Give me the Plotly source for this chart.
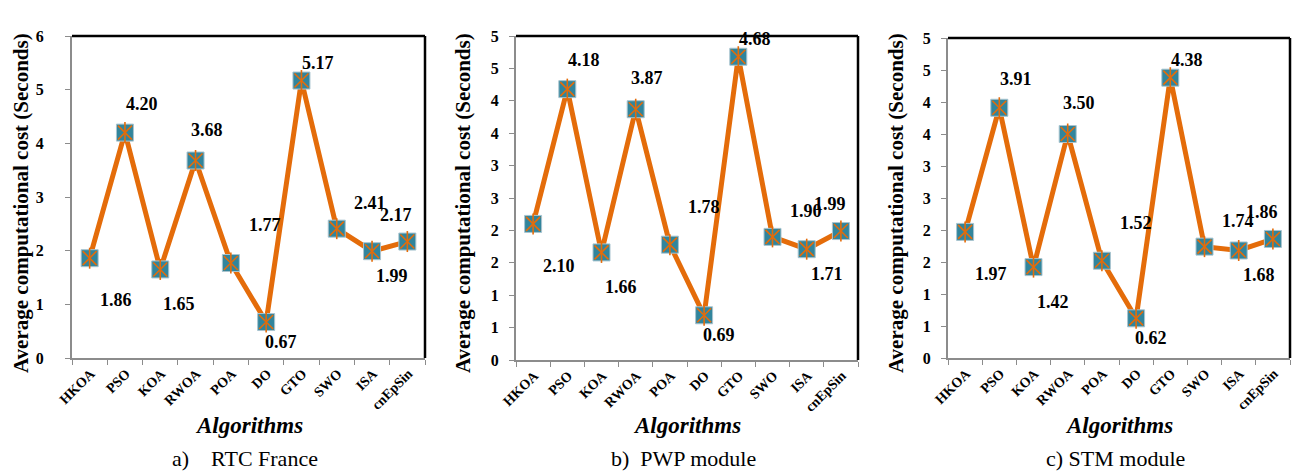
import plotly.graph_objects as go

W, H = 1301, 474

algorithms = ["HKOA", "PSO", "KOA", "RWOA", "POA", "DO", "GTO", "SWO", "ISA", "cnEpSin"]
rtc_france = [1.86, 4.20, 1.65, 3.68, 1.77, 0.67, 5.17, 2.41, 1.99, 2.17]
pwp_module = [2.10, 4.18, 1.66, 3.87, 1.78, 0.69, 4.68, 1.90, 1.71, 1.99]
stm_module = [1.97, 3.91, 1.42, 3.50, 1.52, 0.62, 4.38, 1.74, 1.68, 1.86]

panel_titles = ["a)    RTC France", "b)  PWP module", "c) STM module"]
y_tick_vals_a = [0, 1, 2, 3, 4, 5, 6]
y_tick_text_a = ["0", "1", "2", "3", "4", "5", "6"]
y_tick_vals_bc = [0, 0.5, 1, 1.5, 2, 2.5, 3, 3.5, 4, 4.5, 5]
y_tick_text_bc = ["0", "1", "1", "2", "2", "3", "3", "4", "4", "5", "5"]

# label offsets (pixels) relative to each point: style only
label_dx = [26, 17, 19, 11, 34, 15, 17, 33, 20, -11]
label_dy = [42, -29, 35, -31, -38, 20, -18, -26, 25, -27]

series = [rtc_france, pwp_module, stm_module]

# panel geometry in pixels (left, right, top, bottom)
panels = [(72, 425, 36, 358), (516, 858, 36, 360), (948, 1290, 38, 358)]
ytitle_x = [21, 463, 896]
standoffs = [18, 7, 7]
yranges = [[0, 6], [0, 5], [0, 5]]
yticks = [(y_tick_vals_a, y_tick_text_a), (y_tick_vals_bc, y_tick_text_bc), (y_tick_vals_bc, y_tick_text_bc)]

FONT = "Liberation Serif, Times New Roman, serif"
ORANGE = "#E46C0A"
TEAL = "#31859C"
GREY = "#8C8C8C"

fig = go.Figure()
annotations = []
shapes = []

for i, vals in enumerate(series):
    n = "" if i == 0 else str(i + 1)
    xa, ya = "x" + n, "y" + n
    l, r, t, b = panels[i]
    fig.add_trace(go.Scatter(
        x=algorithms, y=vals, xaxis=xa, yaxis=ya, mode="lines+markers",
        line=dict(color=ORANGE, width=5),
        marker=dict(symbol="square", size=17, color=TEAL, line=dict(color="#A9C4CF", width=1)),
        showlegend=False, hoverinfo="skip"))
    fig.add_trace(go.Scatter(
        x=algorithms, y=vals, xaxis=xa, yaxis=ya, mode="markers",
        marker=dict(symbol="x-thin-open", size=14, color=ORANGE, line=dict(color=ORANGE, width=1.6)),
        showlegend=False, hoverinfo="skip"))
    fig.add_trace(go.Scatter(
        x=algorithms, y=vals, xaxis=xa, yaxis=ya, mode="markers",
        marker=dict(symbol="line-ns-open", size=15, color=ORANGE, line=dict(color=ORANGE, width=1.6)),
        showlegend=False, hoverinfo="skip"))

    tv, tt = yticks[i]
    fig.update_layout(**{
        ("xaxis" + n): dict(
            domain=[l / W, r / W], anchor=ya, type="category", automargin=False,
            categoryorder="array", categoryarray=algorithms,
            range=[-0.5, len(algorithms) - 0.5],
            tickson="boundaries", ticks="outside", ticklen=5, tickcolor=GREY,
            showline=True, linecolor=GREY, linewidth=2, showgrid=False,
            tickangle=-45, ticklabelshift=1,
            tickfont=dict(family=FONT, size=14, color="black", weight="bold"),
            zeroline=False, fixedrange=True),
        ("yaxis" + n): dict(
            domain=[1 - b / H, 1 - t / H], anchor=xa, range=yranges[i], automargin=False,
            tickvals=tv, ticktext=tt, ticks="outside", ticklen=5, tickcolor=GREY,
            showline=True, linecolor=GREY, linewidth=2, showgrid=False, zeroline=False,
            ticklabelstandoff=standoffs[i],
            tickfont=dict(family=FONT, size=16, color="black", weight="bold"), fixedrange=True),
    })

    # top and right black frame
    shapes.append(dict(type="line", xref=xa + " domain", yref=ya + " domain", x0=0, x1=1, y0=1, y1=1,
                       line=dict(color="black", width=2.5)))
    shapes.append(dict(type="line", xref=xa + " domain", yref=ya + " domain", x0=1, x1=1, y0=0, y1=1,
                       line=dict(color="black", width=2.5)))

    for j, (cat, v) in enumerate(zip(algorithms, vals)):
        annotations.append(dict(
            x=cat, y=v, xref=xa, yref=ya, text=f"{v:.2f}", showarrow=False,
            xanchor="center", yanchor="middle",
            xshift=label_dx[j], yshift=-label_dy[j],
            font=dict(family=FONT, size=18, color="black", weight="bold")))

    cx = (l + r) / 2 / W
    annotations.append(dict(
        x=ytitle_x[i] / W, y=1 - 203 / H, xref="paper", yref="paper",
        xanchor="center", yanchor="middle",
        text="Average computational cost (Seconds)", textangle=-90, showarrow=False,
        font=dict(family=FONT, size=21, color="black", weight="bold")))
    annotations.append(dict(
        x=cx, y=1 - 425 / H, xref="paper", yref="paper", text="Algorithms", showarrow=False,
        xanchor="center", yanchor="middle",
        font=dict(family=FONT, size=23, color="black", weight="bold", style="italic")))
    annotations.append(dict(
        x=cx - 4 / W, y=1 - 458 / H, xref="paper", yref="paper", text=panel_titles[i], showarrow=False,
        xanchor="center", yanchor="middle",
        font=dict(family=FONT, size=22, color="black")))

fig.update_layout(
    width=W, height=H, margin=dict(l=0, r=0, t=0, b=0, autoexpand=False),
    paper_bgcolor="white", plot_bgcolor="white", hovermode=False,
    annotations=annotations, shapes=shapes)

fig.write_html("out.html", config={"displayModeBar": False, "staticPlot": True},
               post_script="document.body.style.margin='0';document.body.style.overflow='hidden';")
